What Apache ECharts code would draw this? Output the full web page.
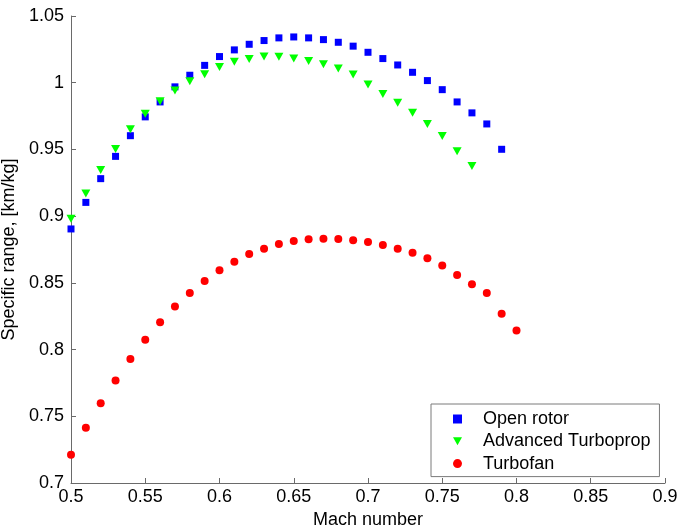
<!DOCTYPE html>
<html>
<head>
<meta charset="utf-8">
<script src="https://cdn.jsdelivr.net/npm/echarts@6/dist/echarts.min.js"></script>
<style>
  html, body { margin: 0; padding: 0; background: #fff; }
  #chart { width: 680px; height: 531px; }
</style>
</head>
<body>
<div id="chart"></div>
<script>
// Mach numbers sampled for each configuration
const machOpenRotor = [0.50,0.51,0.52,0.53,0.54,0.55,0.56,0.57,0.58,0.59,0.60,0.61,0.62,0.63,0.64,0.65,0.66,0.67,0.68,0.69,0.70,0.71,0.72,0.73,0.74,0.75,0.76,0.77,0.78,0.79];
const machTurboprop = [0.50,0.51,0.52,0.53,0.54,0.55,0.56,0.57,0.58,0.59,0.60,0.61,0.62,0.63,0.64,0.65,0.66,0.67,0.68,0.69,0.70,0.71,0.72,0.73,0.74,0.75,0.76,0.77];
const machTurbofan = [0.50,0.51,0.52,0.53,0.54,0.55,0.56,0.57,0.58,0.59,0.60,0.61,0.62,0.63,0.64,0.65,0.66,0.67,0.68,0.69,0.70,0.71,0.72,0.73,0.74,0.75,0.76,0.77,0.78,0.79,0.80];

// Specific range [km/kg]
const srOpenRotor = [0.8904,0.9103,0.9281,0.9448,0.9603,0.9744,0.9856,0.9969,1.0056,1.0130,1.0196,1.0246,1.0288,1.0316,1.0336,1.0343,1.0336,1.0323,1.0303,1.0274,1.0228,1.0181,1.0133,1.0078,1.0016,0.9948,0.9856,0.9774,0.9691,0.9501];
const srTurboprop = [0.8981,0.9169,0.9346,0.9504,0.9651,0.9768,0.9861,0.9941,1.0011,1.0063,1.0118,1.0158,1.0178,1.0196,1.0195,1.0181,1.0163,1.0138,1.0106,1.0061,0.9986,0.9916,0.9849,0.9774,0.9691,0.9601,0.9486,0.9376];
const srTurbofan = [0.7212,0.7415,0.7597,0.7769,0.7930,0.8074,0.8204,0.8322,0.8424,0.8514,0.8594,0.8659,0.8717,0.8756,0.8792,0.8814,0.8826,0.8831,0.8829,0.8819,0.8807,0.8784,0.8756,0.8726,0.8684,0.8631,0.8559,0.8489,0.8424,0.8269,0.8142];

const seriesNames = ['Open rotor', 'Advanced Turboprop', 'Turbofan'];

const xTickLabels = ['0.5','0.55','0.6','0.65','0.7','0.75','0.8','0.85','0.9'];
const yTickLabels = ['0.7','0.75','0.8','0.85','0.9','0.95','1','1.05'];

const pairs = (xs, ys) => xs.map((x, i) => [x, ys[i]]);
const FONT = 'Liberation Sans, Arial, sans-serif';
const axisGray = '#6a6a6a';
// downward-pointing triangle used for the turboprop marker in the legend
const downTriangle = 'path://M0,0 L10,0 L5,9 Z';

const chart = echarts.init(document.getElementById('chart'), null, { renderer: 'canvas' });

chart.setOption({
  animation: false,
  backgroundColor: '#ffffff',
  grid: { left: 71, right: 15, top: 16, bottom: 48, containLabel: false, outerBoundsMode: 'none' },
  xAxis: {
    type: 'value',
    min: 0.5, max: 0.9, interval: 0.05,
    name: 'Mach number',
    nameLocation: 'middle',
    nameGap: 22,
    nameTextStyle: { fontFamily: FONT, fontSize: 18, color: '#000', verticalAlign: 'top' },
    axisLine: { show: true, lineStyle: { color: axisGray, width: 1 } },
    axisTick: { show: true, inside: true, length: 5, lineStyle: { color: axisGray } },
    axisLabel: {
      fontFamily: FONT, fontSize: 18, color: '#000', margin: 5,
      formatter: (v) => {
        const i = Math.round((v - 0.5) / 0.05);
        return xTickLabels[i] !== undefined ? xTickLabels[i] : '';
      }
    },
    splitLine: { show: false }
  },
  yAxis: {
    type: 'value',
    min: 0.7, max: 1.05, interval: 0.05,
    name: 'Specific range, [km/kg]',
    nameLocation: 'middle',
    nameGap: 41,
    nameTextStyle: { fontFamily: FONT, fontSize: 18, color: '#000' },
    axisLine: { show: true, lineStyle: { color: axisGray, width: 1 } },
    axisTick: { show: true, inside: true, length: 5, lineStyle: { color: axisGray } },
    axisLabel: {
      fontFamily: FONT, fontSize: 18, color: '#000', margin: 7,
      formatter: (v) => {
        const i = Math.round((v - 0.7) / 0.05);
        return yTickLabels[i] !== undefined ? yTickLabels[i] : '';
      }
    },
    splitLine: { show: false }
  },
  legend: {
    orient: 'vertical',
    left: 431,
    top: 404,
    padding: [6, 9, 4, 22],
    itemGap: 4.3,
    itemWidth: 9,
    itemHeight: 9,
    borderColor: '#7a7a7a',
    borderWidth: 1,
    backgroundColor: '#ffffff',
    textStyle: { fontFamily: FONT, fontSize: 18, color: '#000', lineHeight: 18, padding: [0, 0, 0, 16] },
    data: [
      { name: seriesNames[0], icon: 'rect' },
      { name: seriesNames[1], icon: downTriangle },
      { name: seriesNames[2], icon: 'circle' }
    ]
  },
  series: [
    {
      name: seriesNames[0],
      type: 'scatter',
      symbol: 'rect',
      symbolSize: 7,
      itemStyle: { color: '#0000ff', opacity: 1 },
      data: pairs(machOpenRotor, srOpenRotor)
    },
    {
      name: seriesNames[1],
      type: 'scatter',
      symbol: 'triangle',
      symbolRotate: 180,
      symbolSize: [9, 8],
      itemStyle: { color: '#00ff00', opacity: 1 },
      data: pairs(machTurboprop, srTurboprop)
    },
    {
      name: seriesNames[2],
      type: 'scatter',
      symbol: 'circle',
      symbolSize: 8,
      itemStyle: { color: '#ff0000', opacity: 1 },
      data: pairs(machTurbofan, srTurbofan)
    }
  ]
});
</script>
</body>
</html>
